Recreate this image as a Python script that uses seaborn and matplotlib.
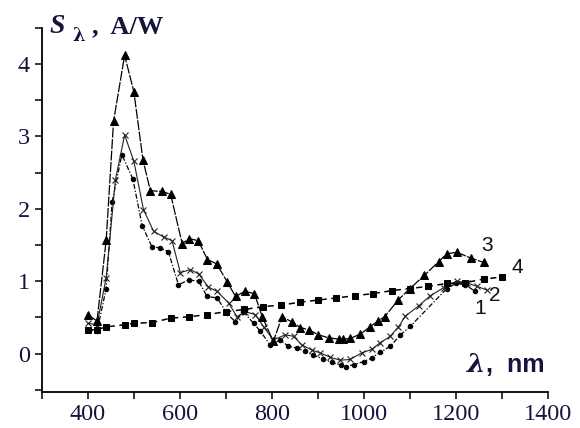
import matplotlib
matplotlib.use("Agg")
import matplotlib.pyplot as plt
import seaborn as sns
import pandas as pd
from matplotlib.ticker import MultipleLocator

# ---- data ----
wl1 = [400, 420, 440, 453, 474, 498, 518, 539, 557, 575, 597, 619, 641, 659, 681,
       702, 720, 738, 760, 775, 796, 818, 836, 854, 872, 890, 910, 930, 950, 960,
       978, 999, 1017, 1035, 1057, 1079, 1101, 1180, 1200, 1220, 1242]
s1 = [0.33, 0.31, 0.90, 2.10, 2.75, 2.41, 1.77, 1.48, 1.46, 1.41, 0.95, 1.02, 1.00, 0.79, 0.77,
      0.56, 0.44, 0.58, 0.42, 0.31, 0.12, 0.19, 0.10, 0.08, 0.03, -0.02, -0.07, -0.12, -0.16, -0.18,
      -0.15, -0.11, -0.06, 0.02, 0.10, 0.26, 0.38, 0.90, 0.97, 0.95, 0.86]

wl2 = [400, 420, 440, 460, 480, 500, 521, 543, 565, 583, 601, 623, 641, 662, 681,
       706, 724, 742, 764, 782, 803, 829, 847, 865, 887, 905, 927, 948, 970, 995,
       1017, 1035, 1057, 1075, 1090, 1119, 1144, 1173, 1202, 1223, 1245, 1267]
s2 = [0.42, 0.40, 1.05, 2.40, 3.02, 2.66, 1.99, 1.69, 1.61, 1.56, 1.12, 1.16, 1.10, 0.92, 0.86,
      0.70, 0.51, 0.58, 0.54, 0.37, 0.19, 0.26, 0.24, 0.12, 0.05, 0.01, -0.05, -0.09, -0.08, 0.01,
      0.06, 0.15, 0.24, 0.37, 0.52, 0.66, 0.80, 0.91, 1.00, 0.98, 0.93, 0.88]

wl3 = [400, 420, 440, 456, 480, 500, 520, 536, 562, 580, 605, 620, 640, 660, 680,
       703, 721, 741, 762, 779, 803, 822, 843, 862, 880, 901, 923, 945, 955, 970,
       992, 1013, 1030, 1045, 1074, 1100, 1131, 1162, 1180, 1202, 1232, 1260]
s3 = [0.54, 0.45, 1.57, 3.21, 4.12, 3.62, 2.67, 2.25, 2.24, 2.20, 1.52, 1.59, 1.56, 1.30, 1.24,
      0.99, 0.79, 0.86, 0.83, 0.51, 0.17, 0.51, 0.44, 0.36, 0.33, 0.26, 0.22, 0.20, 0.20, 0.21,
      0.27, 0.37, 0.45, 0.51, 0.74, 0.90, 1.08, 1.27, 1.38, 1.40, 1.32, 1.26]

wl4 = [400, 420, 440, 480, 500, 540, 580, 620, 660, 700, 740, 780, 820, 860, 900,
       940, 980, 1020, 1060, 1100, 1140, 1180, 1220, 1260, 1300]
s4 = [0.33, 0.33, 0.37, 0.40, 0.42, 0.43, 0.49, 0.51, 0.54, 0.58, 0.61, 0.65, 0.67, 0.71, 0.74,
      0.77, 0.80, 0.83, 0.87, 0.90, 0.93, 0.97, 0.98, 1.03, 1.06]

curve_labels = ["1", "2", "3", "4"]
x_ticks = [400, 600, 800, 1000, 1200, 1400]
y_ticks = [0, 1, 2, 3, 4]

sns.set_theme(style="white")
plt.rcParams['font.family'] = ['Liberation Serif', 'DejaVu Serif']

fig = plt.figure(figsize=(5.8, 4.28), dpi=100)
ax = fig.add_axes([0.072, 0.084, 0.873, 0.851])

navy = '#14143c'

df1 = pd.DataFrame({"wl": wl1, "S": s1})
df2 = pd.DataFrame({"wl": wl2, "S": s2})
df3 = pd.DataFrame({"wl": wl3, "S": s3})
df4 = pd.DataFrame({"wl": wl4, "S": s4})

sns.lineplot(data=df1, x="wl", y="S", ax=ax, color='black', linewidth=0.9,
             linestyle=(0, (4, 1.5, 1, 1.5)), marker='o', markersize=3.2,
             markerfacecolor='black', markeredgecolor='black', estimator=None)
sns.lineplot(data=df2, x="wl", y="S", ax=ax, color='#222222', linewidth=0.8,
             linestyle='-', marker='x', markersize=4.5,
             markerfacecolor='none', markeredgecolor='#222222', markeredgewidth=0.8,
             estimator=None)
sns.lineplot(data=df3, x="wl", y="S", ax=ax, color='black', linewidth=0.9,
             linestyle=(0, (8, 1.2)), marker='^', markersize=5.5,
             markerfacecolor='black', markeredgecolor='black', estimator=None)
sns.lineplot(data=df4, x="wl", y="S", ax=ax, color='black', linewidth=1.1,
             linestyle=(0, (4, 3)), marker='s', markersize=4.2,
             markerfacecolor='black', markeredgecolor='black', estimator=None)

ax.set_xlim(300, 1400)
ax.set_ylim(-0.53, 4.5)
ax.set_xticks(x_ticks)
ax.set_yticks(y_ticks)
ax.xaxis.set_minor_locator(MultipleLocator(100))
ax.yaxis.set_minor_locator(MultipleLocator(0.5))
ax.tick_params(axis='both', which='both', direction='out', colors='black',
               labelcolor=navy, labelsize=17.5, width=1.1)
ax.tick_params(axis='both', which='major', length=5, bottom=True, left=True)
ax.tick_params(axis='both', which='minor', length=5, bottom=True, left=True)
ax.set_xlabel("")
ax.set_ylabel("")
for side in ['top', 'right']:
    ax.spines[side].set_visible(False)
for side in ['left', 'bottom']:
    ax.spines[side].set_color('black')
    ax.spines[side].set_linewidth(1.3)
ax.grid(False)

# axis titles
fig.text(0.086, 0.937, "S", fontsize=20, color=navy, ha='left', va='center',
         fontstyle='italic', fontweight='bold', family=['Liberation Serif'])
fig.text(0.124, 0.915, "λ", fontsize=13, color=navy, ha='left', va='center', fontweight='bold',
         family=['DejaVu Serif'])
fig.text(0.158, 0.937, ",  A/W", fontsize=19, color=navy, ha='left', va='center', fontweight='bold',
         family=['Liberation Serif'])

fig.text(0.805, 0.148, "λ", fontsize=19, color=navy, ha='left', va='center',
         fontstyle='italic', fontweight='bold', family=['DejaVu Serif'])
fig.text(0.838, 0.148, ",  nm", fontsize=18, color=navy, ha='left', va='center',
         fontweight='bold', family=['Liberation Sans'])

# curve labels
lab_x = [1252, 1285, 1268, 1333]
lab_y = [0.63, 0.80, 1.50, 1.19]
for t, xx, yy in zip(curve_labels, lab_x, lab_y):
    ax.text(xx, yy, t, fontsize=15, color='#111111', ha='center', va='center',
            family=['Liberation Sans'])

fig.savefig("out.png", dpi=100)
